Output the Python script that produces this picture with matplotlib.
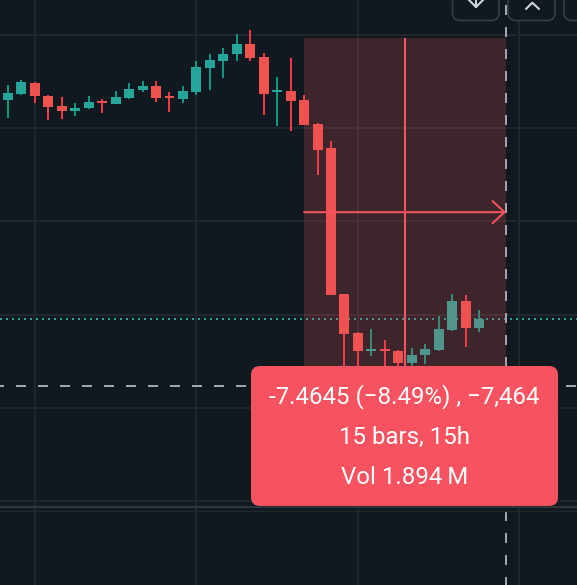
import matplotlib
matplotlib.use('Agg')
import matplotlib.pyplot as plt
from matplotlib.patches import FancyBboxPatch, Rectangle

# --- hourly candles (price units) ---
opens  = [86.61, 86.73, 86.97, 86.69, 86.48, 86.37, 86.43, 86.58, 86.52, 86.65,
          86.82, 86.91, 86.69, 86.63, 86.78, 87.29, 87.44, 87.59, 87.81, 87.53,
          86.78, 86.80, 86.61, 86.09, 85.58, 82.44, 81.61, 81.22, 81.26, 81.22,
          80.96, 81.13, 81.24, 81.67, 82.29, 81.71]
highs  = [86.93, 87.03, 86.99, 86.71, 86.67, 86.54, 86.69, 86.63, 86.80, 86.97,
          87.01, 87.01, 86.78, 86.91, 87.44, 87.59, 87.72, 88.02, 88.11, 87.61,
          87.10, 87.51, 86.71, 86.11, 85.73, 82.44, 81.63, 81.69, 81.46, 81.24,
          81.28, 81.37, 81.97, 82.44, 82.42, 82.10]
lows   = [86.22, 86.71, 86.54, 86.18, 86.20, 86.26, 86.42, 86.33, 86.51, 86.63,
          86.78, 86.56, 86.35, 86.54, 86.71, 86.82, 87.08, 87.44, 87.44, 86.28,
          86.05, 85.94, 86.07, 85.00, 82.42, 80.90, 80.90, 81.11, 80.80, 80.75,
          80.80, 80.95, 81.22, 81.65, 81.30, 81.63]
closes = [86.76, 86.99, 86.69, 86.45, 86.37, 86.43, 86.56, 86.54, 86.67, 86.84,
          86.91, 86.65, 86.65, 86.80, 87.31, 87.46, 87.59, 87.81, 87.51, 86.73,
          86.82, 86.58, 86.07, 85.53, 82.42, 81.58, 81.22, 81.26, 81.22, 80.96,
          81.13, 81.26, 81.69, 82.29, 81.71, 81.91]

grid_prices = [78, 80, 82, 84, 86, 88]
grid_bars = [2, 14, 26, 38]

# price range measurement (15 bars)
measure_start = 22
measure_end = 37
measure_top = 87.93
measure_change = -7.4645
measure_pct = -8.49
measure_ticks = -7464
measure_bars = 15
measure_volume = "1.894\u2009M"

BG = '#10191f'
GRID = '#1e272d'
UP_BODY, UP_WICK = '#26a69a', '#089981'
DN_BODY, DN_WICK = '#ef5350', '#f23645'
MEASURE = '#f7525f'


def main():
    fig = plt.figure(figsize=(5.77, 5.85), dpi=100, facecolor=BG)
    ax = fig.add_axes([0, 0, 1, 1], facecolor=BG)
    ax.set_xlim(-0.594, 42.28)
    ax.set_ylim(76.197, 88.751)
    ax.axis('off')

    # grid
    for p in grid_prices:
        ax.axhline(p, color=GRID, lw=1.5, zorder=0)
    for b in grid_bars:
        ax.axvline(b, color=GRID, lw=1.5, zorder=0)

    # candles
    x = list(range(len(opens)))
    for i in x:
        up = closes[i] >= opens[i]
        ax.vlines(i, lows[i], highs[i], color=UP_WICK if up else DN_WICK,
                  lw=1.44, zorder=2)
        h = max(abs(closes[i] - opens[i]), 0.03)
        ax.bar(i, h, bottom=min(opens[i], closes[i]), width=0.74,
               color=UP_BODY if up else DN_BODY, zorder=2.2)

    # last price line
    ax.axhline(closes[-1], color=UP_BODY, lw=1.44, ls=(0, (1, 2)), zorder=1.5)

    # crosshair
    bottom = measure_top + measure_change
    ax.axhline(bottom, color='#a3a6af', lw=1.44, ls=(3, (5, 6)), zorder=2.5)
    ax.axvline(measure_end, color='#a3a6af', lw=1.44, ls=(1, (5, 6)), zorder=2.5)

    # measurement box
    ax.add_patch(Rectangle((measure_start, bottom), measure_end - measure_start,
                           measure_top - bottom, fc=MEASURE, alpha=0.2,
                           ec='none', zorder=3))
    mid_bar = (measure_start + measure_end) / 2
    ax.vlines(mid_bar, bottom, measure_top, color=MEASURE, lw=1.44, zorder=4)
    mid_price = (measure_top + bottom) / 2
    ax.annotate('', xy=(measure_end, mid_price), xytext=(measure_start, mid_price),
                arrowprops=dict(arrowstyle='->,head_length=0.43,head_width=0.4',
                                color=MEASURE, lw=1.44, shrinkA=0, shrinkB=0,
                                mutation_scale=20), zorder=4)

    # overlay in pixel units for the ui bits
    ui = fig.add_axes([0, 0, 1, 1])
    ui.set_xlim(0, 577)
    ui.set_ylim(585, 0)
    ui.axis('off')
    ui.patch.set_alpha(0)

    # pane separator
    ui.plot([0, 577], [507, 507], color='#2f353b', lw=1.6)
    ui.plot([0, 577], [510.5, 510.5], color=GRID, lw=1)

    # top buttons
    for bx, bw in [(452.5, 46.5), (508, 47), (564, 47)]:
        ui.add_patch(FancyBboxPatch((bx, -20), bw, 40.5,
                                    boxstyle='round,pad=0,rounding_size=8',
                                    fc=BG, ec='#3a3f48', lw=1.1))
    ui.plot([468, 476, 484], [-1, 7, -1], color='#d1d4dc', lw=1.5,
            solid_capstyle='round')
    ui.plot([476, 476], [-3, 7], color='#d1d4dc', lw=1.5)
    ui.plot([526, 532.3, 539], [9, 2.7, 9], color='#d1d4dc', lw=1.5,
            solid_capstyle='round')

    # tooltip
    ui.add_patch(FancyBboxPatch((251, 366), 307, 140,
                                boxstyle='round,pad=0,rounding_size=9',
                                fc=MEASURE, ec='none'))
    line1 = (f"{measure_change:.4f} ({measure_pct:.2f}%) , {measure_ticks:,}"
             .replace('(-', '(\u2212').replace(', -', ', \u2212'))
    lines = [line1, f"{measure_bars} bars, {measure_bars}h",
             f"Vol {measure_volume}"]
    for t, ty in zip(lines, [397, 437, 477]):
        ui.text(404.5, ty, t, color='white', fontsize=17.3, ha='center',
                va='center', family=['Roboto', 'DejaVu Sans'])

    fig.savefig('out.png', dpi=100, facecolor=BG)


if __name__ == "__main__":
    main()
